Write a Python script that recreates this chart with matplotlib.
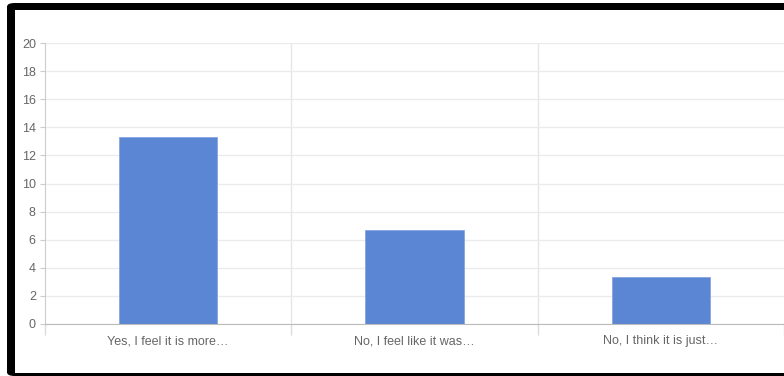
import matplotlib.pyplot as plt
from matplotlib.patches import Rectangle, FancyBboxPatch

categories = ['Yes, I feel it is more…', 'No, I feel like it was…', 'No, I think it is just…']
values = [13.33, 6.67, 3.33]
yticks = [0, 2, 4, 6, 8, 10, 12, 14, 16, 18, 20]

plt.rcParams['font.family'] = ['Liberation Sans', 'DejaVu Sans']

W, H = 784, 376
fig = plt.figure(figsize=(W / 100, H / 100), dpi=100)
fig.patch.set_facecolor('white')

# black frame around the screenshot
fig.patches.append(FancyBboxPatch((7 / W, 0), 1.2, 1 - 3 / H, boxstyle='round,pad=0,rounding_size=0.01',
                                  transform=fig.transFigure, facecolor='black', edgecolor='none', zorder=-2))
fig.patches.append(Rectangle((15 / W, 3 / H), 1.0, 1 - 13 / H,
                             transform=fig.transFigure, facecolor='white', edgecolor='none', zorder=-1))

ax = fig.add_axes([45 / W, 1 - 324 / H, 739 / W, 281 / H])
ax.set_facecolor('none')
ax.set_zorder(1)

x = list(range(len(categories)))
ax.bar(x, values, width=0.4, color='#5b86d3', edgecolor='#86a6e2', linewidth=0.6, zorder=3)

ax.set_xlim(-0.5, 2.5)
ax.set_ylim(0, 20)
ax.set_yticks(yticks)
ax.tick_params(axis='y', length=3.6, color='#cccccc', labelsize=9, labelcolor='#666666', pad=3)
ax.yaxis.grid(True, color='#ebebeb', linewidth=1, zorder=0)

ax.set_xticks([-0.5, 0.5, 1.5, 2.5])
ax.set_xticklabels([])
ax.tick_params(axis='x', which='major', length=8, color='#dddddd', width=1)
ax.set_xticks(x, minor=True)
ax.set_xticklabels(categories, minor=True)
ax.tick_params(axis='x', which='minor', length=0, labelsize=9, labelcolor='#666666', pad=8)
for b in [0.5, 1.5]:
    ax.axvline(b, color='#e6e6e6', linewidth=1, zorder=0)

for s in ['top', 'right']:
    ax.spines[s].set_visible(False)
ax.spines['left'].set_color('#cccccc')
ax.spines['bottom'].set_color('#bbbbbb')
ax.spines['bottom'].set_zorder(4)

plt.savefig('out.png', dpi=100)
